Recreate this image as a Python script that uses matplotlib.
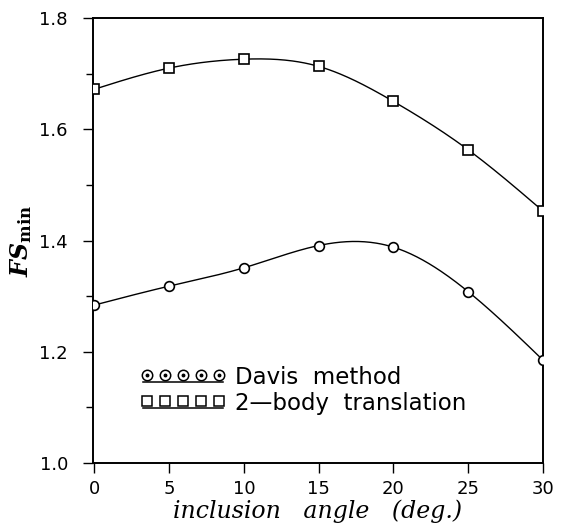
import numpy as np
import matplotlib
matplotlib.use("Agg")
import matplotlib.pyplot as plt
from matplotlib.lines import Line2D
from matplotlib.legend_handler import HandlerBase
from matplotlib.ticker import MultipleLocator

# values
angle = [0, 5, 10, 15, 20, 25, 30]
davis = [1.284, 1.318, 1.351, 1.391, 1.388, 1.308, 1.185]
two_body = [1.672, 1.710, 1.726, 1.713, 1.650, 1.563, 1.453]
x_ticks = [0, 5, 10, 15, 20, 25, 30]
y_ticks = [1.0, 1.2, 1.4, 1.6, 1.8]


def natural_spline(x, y, n=300):
    # natural cubic spline, only used to draw the smooth curve through the points
    x = np.asarray(x, float)
    y = np.asarray(y, float)
    k = len(x)
    h = np.diff(x)
    A = np.zeros((k, k))
    b = np.zeros(k)
    A[0, 0] = A[-1, -1] = 1
    for i in range(1, k - 1):
        A[i, i - 1] = h[i - 1]
        A[i, i] = 2 * (h[i - 1] + h[i])
        A[i, i + 1] = h[i]
        b[i] = 6 * ((y[i + 1] - y[i]) / h[i] - (y[i] - y[i - 1]) / h[i - 1])
    M = np.linalg.solve(A, b)
    xs = np.linspace(x[0], x[-1], n)
    idx = np.clip(np.searchsorted(x, xs) - 1, 0, k - 2)
    x0, x1 = x[idx], x[idx + 1]
    hh = x1 - x0
    t0, t1 = x1 - xs, xs - x0
    ys = (M[idx] * t0**3 + M[idx + 1] * t1**3) / (6 * hh) \
        + (y[idx] / hh - M[idx] * hh / 6) * t0 \
        + (y[idx + 1] / hh - M[idx + 1] * hh / 6) * t1
    return xs, ys


class RowHandler(HandlerBase):
    # five markers in a row with a line underneath
    def create_artists(self, legend, orig, xdescent, ydescent, width, height, fontsize, trans):
        xs = np.linspace(0, width, 5) - xdescent
        yc = height / 2 - ydescent + 1
        under = Line2D([xs[0] - 3, xs[-1] + 3], [yc - 5] * 2, color="k", lw=1.1, transform=trans)
        marks = Line2D(xs, [yc] * 5, ls="none", marker=orig.get_marker(), ms=7.5,
                       mfc="white", mec="k", mew=1.1, transform=trans)
        arts = [under, marks]
        if orig.get_marker() == "o":
            arts.append(Line2D(xs, [yc] * 5, ls="none", marker="o", ms=1.8,
                               mfc="k", mec="k", transform=trans))
        return arts


fig = plt.figure(figsize=(5.75, 5.30), dpi=100)
ax = fig.add_axes([0.1617, 0.1264, 0.7826, 0.8396])

for vals, mk in [(davis, "o"), (two_body, "s")]:
    xs, ys = natural_spline(angle, vals)
    ax.plot(xs, ys, color="k", lw=1.0, zorder=2)
    ax.plot(angle, vals, ls="none", marker=mk, ms=7, mfc="white", mec="k", mew=1.2, zorder=3)

h1 = Line2D([], [], marker="o", ls="none")
h2 = Line2D([], [], marker="s", ls="none")
leg = ax.legend([h1, h2], ["Davis  method", "2\u2014body  translation"],
                handler_map={Line2D: RowHandler()},
                loc="upper left", bbox_to_anchor=(0.12, 0.218), frameon=False,
                borderpad=0, borderaxespad=0, handlelength=3.15, handletextpad=0.7,
                labelspacing=0.15, prop={"family": "DejaVu Sans", "size": 16.5})

ax.set_xlim(-0.1, 30)
ax.set_ylim(1.0, 1.8)
ax.set_xticks(x_ticks)
ax.set_yticks(y_ticks)
ax.yaxis.set_minor_locator(MultipleLocator(0.1))
ax.set_yticklabels([f"{v:.1f}" for v in y_ticks])
ax.tick_params(axis="both", which="major", direction="out", length=7, width=1.0,
               labelsize=13, pad=5)
ax.tick_params(axis="y", which="major", pad=11)
ax.tick_params(axis="y", which="minor", direction="out", length=5, width=1.0)
for s in ax.spines.values():
    s.set_linewidth(1.4)

ax.set_xlabel("inclusion   angle   (deg.)", fontsize=17, family="DejaVu Serif",
              style="italic", labelpad=1)
ax.set_ylabel(r"$\mathbfit{FS}_{\mathbf{min}}$", fontsize=17, math_fontfamily="dejavuserif", labelpad=4)

fig.savefig("out.png", dpi=100)
